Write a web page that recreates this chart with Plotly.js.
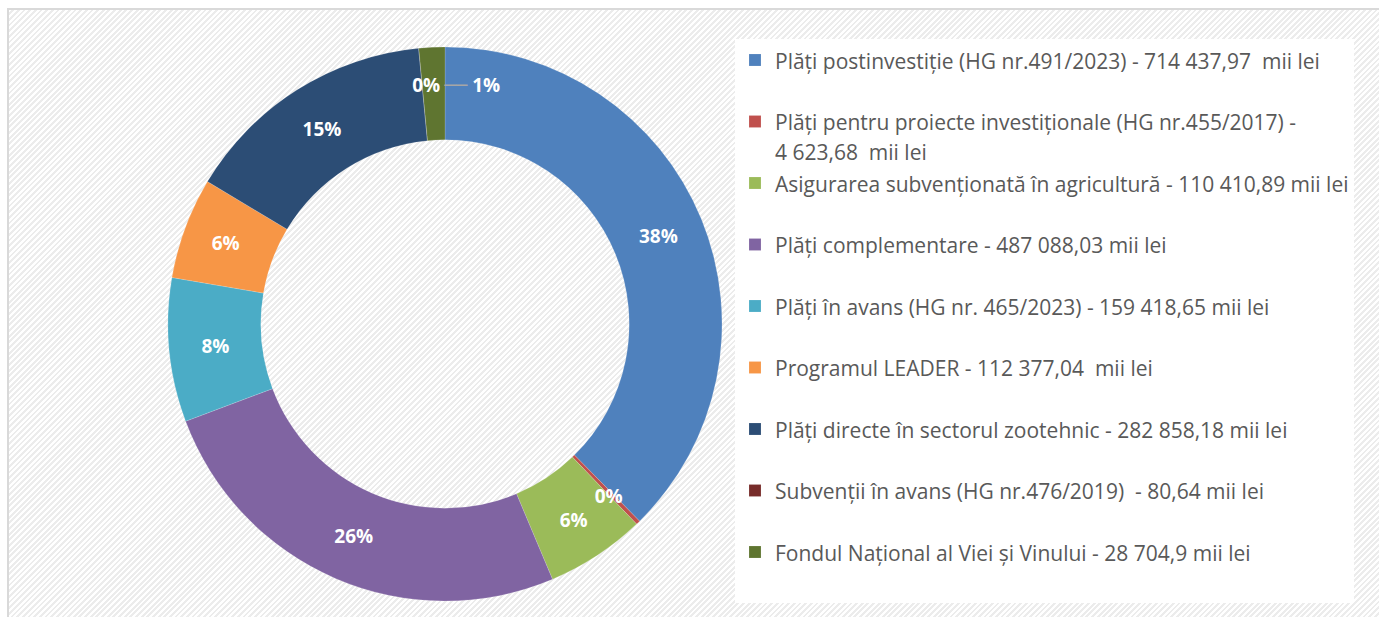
<!DOCTYPE html>
<html>
<head>
<meta charset="utf-8">
<script src="https://cdn.plot.ly/plotly-3.0.1.min.js"></script>
<style>
  html, body { margin: 0; padding: 0; background: #ffffff; }
  #frame {
    position: absolute; left: 7px; top: 8px; width: 1380px; height: 620px;
    border-left: 2px solid #d9d9d9; border-top: 2px solid #d9d9d9;
    background: repeating-linear-gradient(135deg, #ffffff 0px, #ffffff 2px, #ececec 2px, #ececec 4px);
    box-sizing: border-box;
  }
  #chart { position: absolute; left: 0; top: 0; width: 1379px; height: 617px; }
</style>
</head>
<body>
<div id="frame"></div>
<div id="chart"></div>
<script>
const categories = [
  "Plăți postinvestiție (HG nr.491/2023) - 714 437,97  mii lei",
  "Plăți pentru proiecte investiționale (HG nr.455/2017) -<br>4 623,68  mii lei",
  "Asigurarea subvenționată în agricultură - 110 410,89 mii lei",
  "Plăți complementare - 487 088,03 mii lei",
  "Plăți în avans (HG nr. 465/2023) - 159 418,65 mii lei",
  "Programul LEADER - 112 377,04  mii lei",
  "Plăți directe în sectorul zootehnic - 282 858,18 mii lei",
  "Subvenții în avans (HG nr.476/2019)  - 80,64 mii lei",
  "Fondul Național al Viei și Vinului - 28 704,9 mii lei"
];
const values = [714437.97, 4623.68, 110410.89, 487088.03, 159418.65, 112377.04, 282858.18, 80.64, 28704.9];
const percentLabels = ["38%", "0%", "6%", "26%", "8%", "6%", "15%", "0%", "1%"];
const colors = ["#4F81BD", "#C0504D", "#9BBB59", "#8064A2", "#4BACC6", "#F79646", "#2C4D75", "#772C2A", "#5F7530"];

// legend labels: smaller text inside a taller line so items are spaced like the original
const legendLabels = categories.map((c, i) =>
  '<span style="font-size:21px">' + c + '</span>' + (i === 1 ? '' : '<br> ')
);

// tiny slices: the library puts their labels at the rim, so pad them with
// invisible text to bring the visible part back inside the ring
const hid = s => '<span style="color:rgba(0,0,0,0)">' + s + '</span>';
const sliceText = percentLabels.map((t, i) => {
  if (i === 1) {            // small red slice (bottom right)
    return t + hid('0%0%') + '<br>' + hid('0') + '<br>' + hid('0');
  }
  if (i === 7) {            // very small dark-red slice (top)
    return hid('0') + '<br>' + hid('0') + '<br>' + hid('0') + '<br>' + hid('\u00a0\u00a0\u00a0') + t;
  }
  if (i === 8) {            // olive slice: label to the right with a grey leader line
    return hid('0') + '<br>' + hid('0') + '<br>' +
           hid('──── ' + t) + '<span style="color:#a6a6a6">──</span> ' + t;
  }
  return t;
});

const common = {
  type: 'pie',
  labels: legendLabels,
  values: values,
  hoverinfo: 'none',
  sort: false,
  direction: 'clockwise',
  rotation: 0,
  hole: 0.665,
  domain: { x: [0.1218, 0.5236], y: [0.0259, 0.9238] }
};

// the coloured ring with the legend
const ring = Object.assign({}, common, {
  textinfo: 'none',
  marker: { colors: colors, line: { color: 'rgba(255,255,255,0.3)', width: 0.5 } }
});

// same ring, transparent, carrying the data labels so they sit above every slice
const labelsLayer = Object.assign({}, common, {
  showlegend: false,
  text: sliceText,
  textinfo: 'text',
  texttemplate: '%{text}',
  textposition: 'inside',
  insidetextorientation: 'horizontal',
  insidetextfont: { family: 'Open Sans, DejaVu Sans, sans-serif', size: 19, color: '#ffffff', weight: 'bold' },
  marker: { colors: colors.map(() => 'rgba(0,0,0,0)'), line: { width: 0 } }
});

const layout = {
  width: 1379,
  height: 617,
  margin: { l: 0, r: 0, t: 0, b: 0 },
  paper_bgcolor: 'rgba(0,0,0,0)',
  plot_bgcolor: 'rgba(0,0,0,0)',
  showlegend: true,
  uniformtext: { mode: 'show', minsize: 19 },
  legend: {
    x: 0.533, xanchor: 'left',
    y: 0.937, yanchor: 'top',
    bgcolor: '#ffffff',
    valign: 'top',
    font: { family: 'Open Sans, sans-serif', size: 22.5, color: '#595959' },
    itemclick: false, itemdoubleclick: false,
    traceorder: 'normal'
  }
};

Plotly.newPlot('chart', [ring, labelsLayer], layout, { displayModeBar: false, staticPlot: true });
</script>
</body>
</html>
